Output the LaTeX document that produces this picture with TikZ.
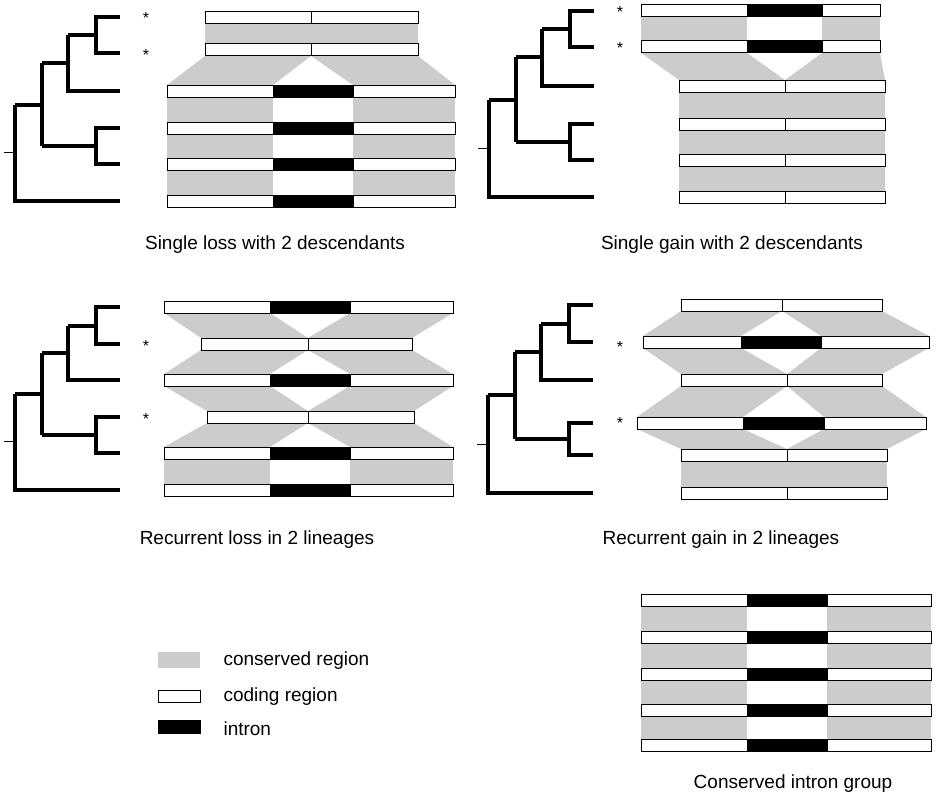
\documentclass[tikz,border=0pt]{standalone}
\usepackage{fontspec}
\setmainfont{Liberation Sans}
\begin{document}
\begin{tikzpicture}[x=1pt,y=-1pt,
  tree/.style={line width=4pt,line cap=butt,line join=miter},
  cons/.style={fill=consgray,draw=none},
  cds/.style={draw=black,line width=1pt,fill=white},
  intr/.style={draw=black,line width=1pt,fill=black},
  capt/.style={font=\fontsize{19}{22}\selectfont,anchor=center},
  star/.style={font=\fontsize{16}{18}\selectfont}]
\definecolor{consgray}{HTML}{CCCCCC}
\useasboundingbox (0,0) rectangle (936,800);
% gene row: y, x1, a, b, x2
\newcommand\grow[5]{%
  \draw[cds] (#2,#1-6) rectangle (#3,#1+6);
  \ifdim #3pt=#4pt\else\fill[intr] (#3,#1-6) rectangle (#4,#1+6);\fi
  \draw[cds] (#4,#1-6) rectangle (#5,#1+6);}
\newcommand\link[9]{% ya x1 a b x2 | yb x1' a' b' (x2' via \lx)
  \fill[cons] (#2,#1+6) -- (#3,#1+6) -- (#8,#6-6) -- (#7,#6-6) -- cycle;
  \fill[cons] (#4,#1+6) -- (#5,#1+6) -- (\lx,#6-6) -- (#9,#6-6) -- cycle;}
% tree: xoffset y1..y6
\newcommand\phtree[7]{%
  \pgfmathsetmacro\ma{(#2+#3)/2}\pgfmathsetmacro\mb{(\ma+#4)/2}%
  \pgfmathsetmacro\mc{(#5+#6)/2}\pgfmathsetmacro\md{(\mb+\mc)/2}%
  \pgfmathsetmacro\me{(\md+#7)/2}%
  \begin{scope}[xshift=#1pt]
  \draw[tree] (120,#2)--(96,#2)--(96,#3)--(120,#3);
  \draw[tree] (68,\ma)--(96,\ma);
  \draw[tree] (68,\ma)--(68,#4)--(120,#4);
  \draw[tree] (120,#5)--(96,#5)--(96,#6)--(120,#6);
  \draw[tree] (42,\mb)--(68,\mb);
  \draw[tree] (42,\mc)--(96,\mc);
  \draw[tree] (42,\mb)--(42,\mc);
  \draw[tree] (15,\md)--(42,\md);
  \draw[tree] (15,\md)--(15,#7)--(120,#7);
  \draw[line width=1pt] (4,\me)--(15,\me);
  \end{scope}}
% ---------- Panel 1
\phtree{0}{17}{53}{91}{128}{164}{201}
\fill[cons] (205,24) rectangle (418,44);
\def\lx{455}\link{50}{205}{311}{311}{418}{91}{167}{273}{353}
\foreach \a/\b in {91/128,128/164,164/201}{
  \fill[cons] (167,\a+6) rectangle (273,\b-6);
  \fill[cons] (353,\a+6) rectangle (455,\b-6);}
\grow{18}{205}{311}{311}{418}
\grow{50}{205}{311}{311}{418}
\foreach \y in {91,128,164,201}{\grow{\y}{167}{273}{353}{455}}
\node[star] at (146,18) {*};
\node[star] at (146,55) {*};
\node[capt] at (275,245) {Single loss with 2 descendants};
% ---------- Panel 2
\phtree{474}{11}{47}{86}{124}{160}{197}
\fill[cons] (641,17) rectangle (747,41);
\fill[cons] (822,17) rectangle (880,41);
\def\lx{885}\link{47}{641}{747}{822}{880}{86}{679}{785}{785}
\foreach \a/\b in {86/124,124/160,160/197}{
  \fill[cons] (679,\a+6) rectangle (885,\b-6);}
\grow{11}{641}{747}{822}{880}
\grow{47}{641}{747}{822}{880}
\foreach \y in {86,124,160,197}{\grow{\y}{679}{785}{785}{885}}
\node[star] at (620,12) {*};
\node[star] at (620,48) {*};
\node[capt] at (732,245) {Single gain with 2 descendants};
% ---------- Panel 3
\phtree{0}{307}{344}{380}{417}{453}{490}
\def\lx{412}\link{307}{164}{270}{350}{453}{344}{201}{308}{308}
\def\lx{453}\link{344}{201}{308}{308}{412}{380}{164}{270}{350}
\def\lx{414}\link{380}{164}{270}{350}{453}{417}{207}{308}{308}
\def\lx{453}\link{417}{207}{308}{308}{414}{453}{164}{270}{350}
\fill[cons] (164,459) rectangle (270,484);
\fill[cons] (350,459) rectangle (453,484);
\grow{307}{164}{270}{350}{453}
\grow{344}{201}{308}{308}{412}
\grow{380}{164}{270}{350}{453}
\grow{417}{207}{308}{308}{414}
\grow{453}{164}{270}{350}{453}
\grow{490}{164}{270}{350}{453}
\node[star] at (146,346) {*};
\node[star] at (146,419) {*};
\node[capt] at (257,540) {Recurrent loss in 2 lineages};
% ---------- Panel 4
\phtree{473}{305}{342}{380}{423}{455}{493}
\def\lx{929}\link{305}{681}{782}{782}{882}{342}{643}{741}{821}
\def\lx{882}\link{342}{643}{741}{821}{929}{380}{681}{787}{787}
\def\lx{926}\link{380}{681}{787}{787}{882}{423}{637}{743}{824}
\def\lx{887}\link{423}{637}{743}{824}{926}{455}{681}{787}{787}
\fill[cons] (681,461) rectangle (887,487);
\grow{305}{681}{782}{782}{882}
\grow{342}{643}{741}{821}{929}
\grow{380}{681}{787}{787}{882}
\grow{423}{637}{743}{824}{926}
\grow{455}{681}{787}{787}{887}
\grow{493}{681}{787}{787}{887}
\node[star] at (620,347) {*};
\node[star] at (620,423) {*};
\node[capt] at (721,540) {Recurrent gain in 2 lineages};
% ---------- Panel 5
\foreach \a/\b in {600/637,637/674,674/710,710/745}{
  \fill[cons] (641,\a+6) rectangle (747,\b-6);
  \fill[cons] (827,\a+6) rectangle (931,\b-6);}
\foreach \y in {600,637,674,710,745}{\grow{\y}{641}{747}{827}{931}}
\node[capt] at (793,784) {Conserved intron group};
% ---------- Legend
\fill[cons] (158,652) rectangle (200,668);
\draw[cds] (158,690) rectangle (200,702);
\fill[intr] (158,720) rectangle (200,733);
\node[capt,anchor=west] at (220,661) {conserved region};
\node[capt,anchor=west] at (220,697) {coding region};
\node[capt,anchor=west] at (220,729) {intron};
\end{tikzpicture}
\end{document}
